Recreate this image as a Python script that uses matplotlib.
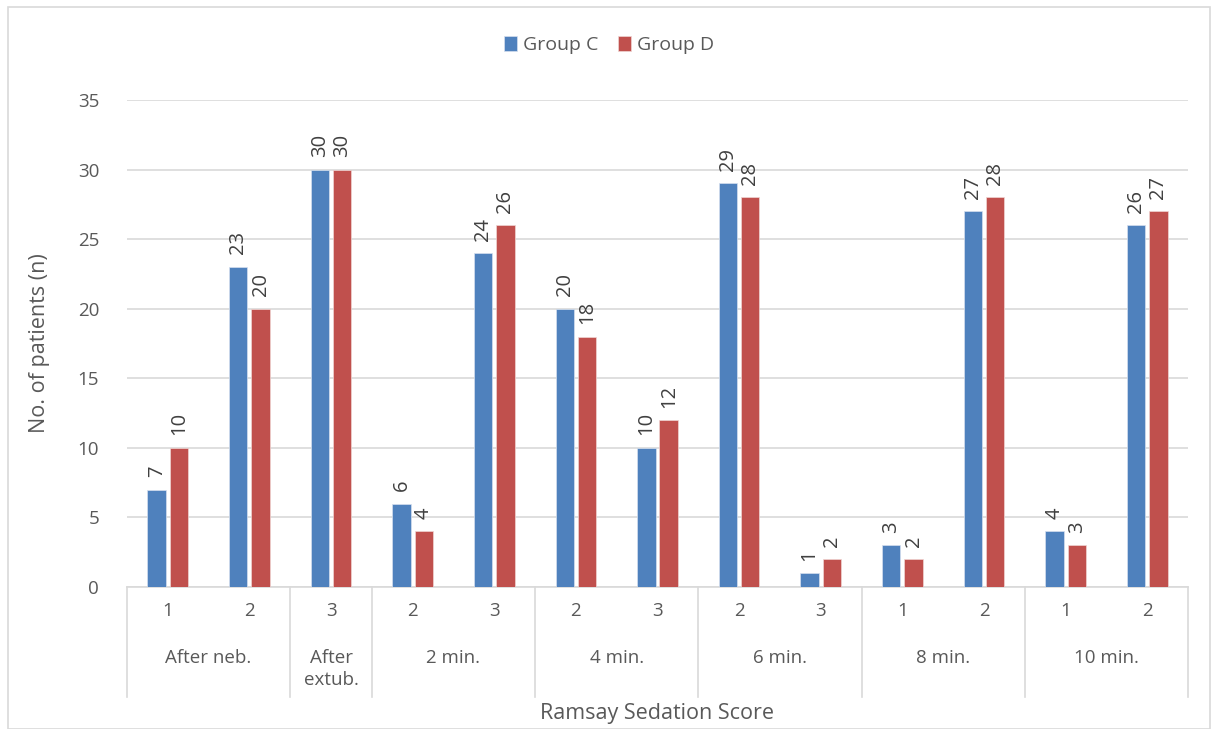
import matplotlib
matplotlib.use("Agg")
import matplotlib.pyplot as plt
from matplotlib.patches import Rectangle
from matplotlib.lines import Line2D
import numpy as np

plt.rcParams['font.family'] = ['Open Sans', 'DejaVu Sans']

# Data
scores = ["1", "2", "3", "2", "3", "2", "3", "2", "3", "1", "2", "1", "2"]
groups = ["After neb.", "After\nextub.", "2 min.", "4 min.", "6 min.", "8 min.", "10 min."]
group_sizes = [2, 1, 2, 2, 2, 2, 2]
group_c = [7, 23, 30, 6, 24, 20, 10, 29, 1, 3, 27, 4, 26]
group_d = [10, 20, 30, 4, 26, 18, 12, 28, 2, 2, 28, 3, 27]

blue = "#4F81BD"
red = "#C0504D"
text_col = "#595959"
grid_col = "#D9D9D9"

fig = plt.figure(figsize=(12.18, 7.29), dpi=100)
fig.patches.append(Rectangle((8 / 1218, 0), 1202 / 1218, 722 / 729, transform=fig.transFigure,
                             fill=False, edgecolor=grid_col, linewidth=1.2))
ax = fig.add_axes([127 / 1218, 1 - 587 / 729, (1188 - 127) / 1218, (587 - 100) / 729])

x = np.arange(len(scores))
w = 0.225
off = 0.137
bc = ax.bar(x - off, group_c, w, color=blue, edgecolor="#D6E0EF", linewidth=0.5, label="Group C", zorder=3)
bd = ax.bar(x + off, group_d, w, color=red, edgecolor="#F0D5D4", linewidth=0.5, label="Group D", zorder=3)

for bars, vals in ((bc, group_c), (bd, group_d)):
    for b, v in zip(bars, vals):
        ax.annotate(str(v), (b.get_x() + b.get_width() / 2, v), xytext=(0, 9),
                    textcoords="offset points", rotation=90, ha="center", va="bottom",
                    fontsize=14.5, color="#404040")

ax.set_xlim(-0.5, len(scores) - 0.5)
ax.set_ylim(0, 35)
ax.set_yticks(range(0, 36, 5))
ax.yaxis.grid(True, color=grid_col, linewidth=1.2, zorder=0)
ax.tick_params(axis="y", length=0, labelsize=13.5, labelcolor=text_col, pad=20)
ax.set_xticks(x)
ax.set_xticklabels(scores)
ax.tick_params(axis="x", length=0, labelsize=13.5, labelcolor=text_col, pad=11)
for s in ("top", "right", "left"):
    ax.spines[s].set_visible(False)
ax.spines["bottom"].set_color(grid_col)
ax.spines["bottom"].set_linewidth(1.2)
ax.set_ylabel("No. of patients (n)", fontsize=15.5, color=text_col, labelpad=20)

# Group labels and separators below the axis
trans = ax.get_xaxis_transform()
ax_h_px = 587 - 100
y_bot = -(697 - 587) / ax_h_px
y_grp = -(649 - 587) / ax_h_px
start = -0.5
bounds = [start]
for name, n in zip(groups, group_sizes):
    end = start + n
    bounds.append(end)
    ax.text((start + end) / 2, y_grp, name, transform=trans, ha="center", va="top",
            fontsize=13.5, color=text_col, linespacing=1.3)
    start = end
for b in bounds:
    ax.add_line(Line2D([b, b], [0, y_bot], transform=trans, color=grid_col,
                       linewidth=1.2, clip_on=False))

fig.text((127 + 1188) / 2 / 1218, 1 - 714 / 729, "Ramsay Sedation Score", ha="center", va="center",
         fontsize=15.5, color=text_col)

leg = fig.legend(handles=[bc, bd], loc="center", bbox_to_anchor=(0.5, 1 - 45 / 729), ncol=2,
                 frameon=False, fontsize=14, handlelength=0.7, handleheight=0.8,
                 handletextpad=0.3, columnspacing=1.0, labelcolor=text_col)

fig.savefig("out.png", dpi=100)
